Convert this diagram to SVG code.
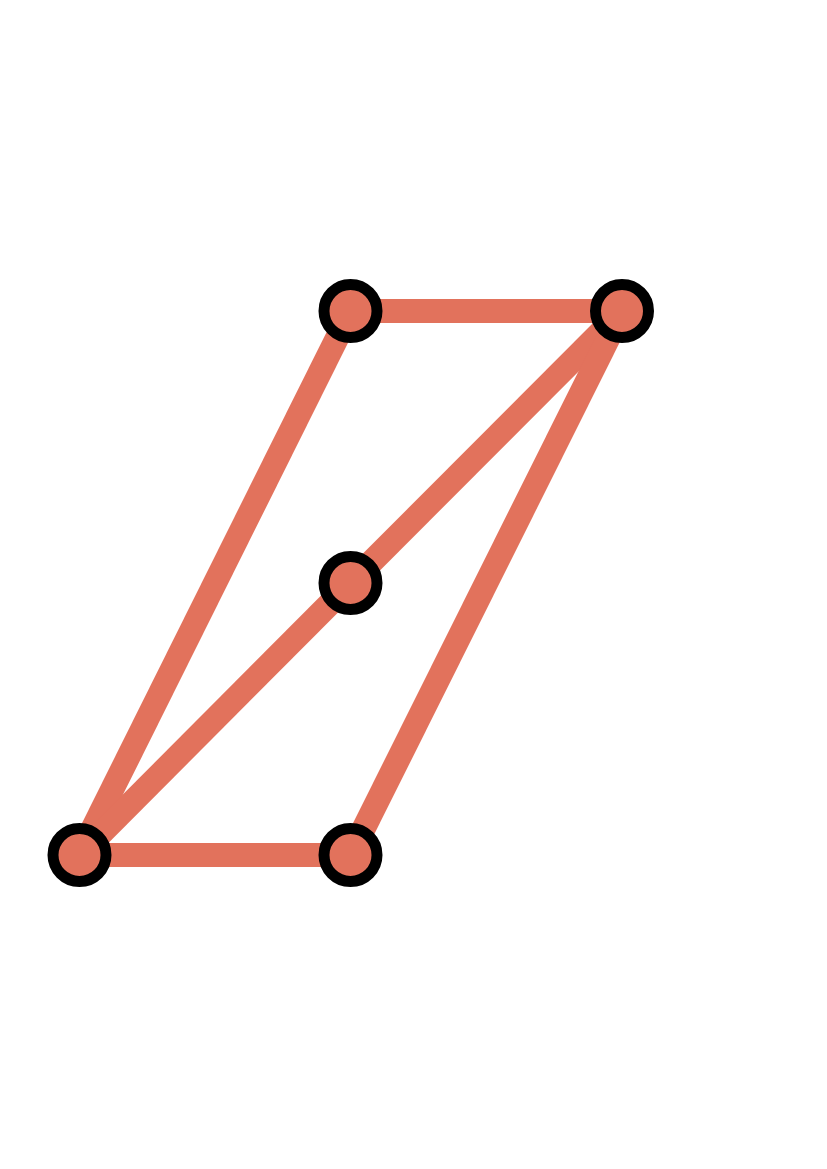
<svg xmlns="http://www.w3.org/2000/svg" width="827" height="1169" viewBox="0 0 827 1169">
<style>
.e{stroke:#E2725C;stroke-width:24;fill:none}
.n{fill:#E2725C;stroke:#000;stroke-width:11}
</style>
<rect width="827" height="1169" fill="#fff"/>
<g id="edges">
<line class="e" x1="350.5" y1="311" x2="622" y2="311"/>
<line class="e" x1="350.5" y1="311" x2="79.5" y2="855"/>
<line class="e" x1="622" y1="311" x2="350.5" y2="583"/>
<line class="e" x1="350.5" y1="583" x2="79.5" y2="855"/>
<line class="e" x1="622" y1="311" x2="350.5" y2="855"/>
<line class="e" x1="79.5" y1="855" x2="350.5" y2="855"/>
</g>
<g id="n1"><circle class="n" cx="350.5" cy="311" r="26.5"/></g>
<g id="n2"><circle class="n" cx="622" cy="311" r="26.5"/></g>
<g id="n3"><circle class="n" cx="350.5" cy="583" r="26.5"/></g>
<g id="n4"><circle class="n" cx="79.5" cy="855" r="26.5"/></g>
<g id="n5"><circle class="n" cx="350.5" cy="855" r="26.5"/></g>
</svg>
